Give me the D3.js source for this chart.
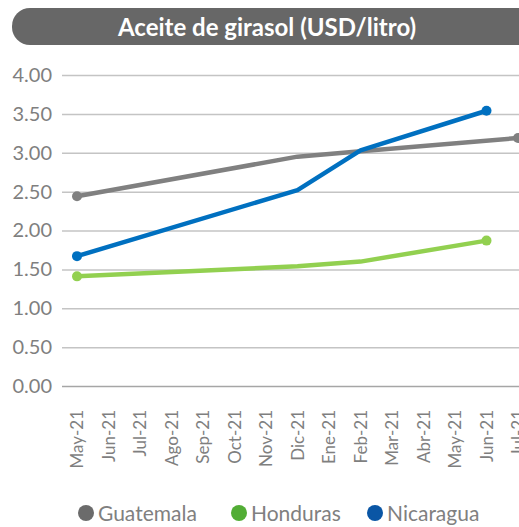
<!DOCTYPE html>
<html>
<head>
<meta charset="utf-8">
<script src="https://cdn.jsdelivr.net/npm/d3@7"></script>
<style>
  body { margin: 0; background: #fff; }
  svg { display: block; font-family: Lato, "Open Sans", sans-serif; }
</style>
</head>
<body>
<div id="chart"></div>
<script>
// month labels along the x axis (as printed on the original)
const months = ["May-21", "Jun-21", "Jul-21", "Ago-21", "Sep-21", "Oct-21", "Nov-21",
    "Dic-21", "Ene-21", "Feb-21", "Mar-21", "Abr-21", "May-21", "Jun-21", "Jul-21"];

// values, null where there is no point
const guatemala = [2.44, null, null, null, null, null, null, 2.95, null, 3.02, null, null, null, null, 3.19];
const honduras  = [1.41, null, null, null, null, null, null, 1.54, null, 1.60, null, null, null, 1.87, null];
const nicaragua = [1.67, null, null, null, null, null, null, 2.52, null, 3.03, null, null, null, 3.54, null];

const yTicks = [0, 0.5, 1, 1.5, 2, 2.5, 3, 3.5, 4];

const seriesNames = ["Guatemala", "Honduras", "Nicaragua"];
const lineColors = ["#808080", "#92d050", "#0070c0"];
const legendColors = ["#6b6b6b", "#52ad35", "#0a56a5"];

let series = [guatemala, honduras, nicaragua].map((vals, i) => ({
    name: seriesNames[i],
    color: lineColors[i],
    points: vals.map((v, j) => ({ i: j, value: v })).filter(d => d.value !== null)
}));

const width = 519, height = 527;
const svg = d3.select("#chart").append("svg")
    .attr("width", width)
    .attr("height", height);

// title bar
svg.append("rect")
    .attr("x", 12)
    .attr("y", 8)
    .attr("width", 530)
    .attr("height", 37)
    .attr("rx", 18)
    .attr("fill", "#676767");

svg.append("text")
    .attr("x", 267)
    .attr("y", 27)
    .attr("dy", "0.36em")
    .style("text-anchor", "middle")
    .style("font-size", "24px")
    .style("font-weight", "700")
    .style("fill", "#fff")
    .text("Aceite de girasol (USD/litro)");

// scales
let x = d3.scalePoint()
    .domain(d3.range(months.length))
    .range([77, 518]);

let y = d3.scaleLinear()
    .domain([0, 4])
    .range([386, 75]);

// grid lines + y labels
let yAxis = d3.axisLeft(y)
    .tickValues(yTicks)
    .tickFormat(d3.format(".2f"))
    .tickSize(-(width - 62))
    .tickPadding(10);

let yG = svg.append("g")
    .attr("transform", "translate(62,0)")
    .call(yAxis)
    .attr("font-family", null)
    .attr("font-size", null);

yG.select(".domain").remove();
yG.selectAll(".tick line")
    .attr("stroke", d => d === 0 ? "#a6a6a6" : "#c4c4c4")
    .attr("stroke-width", 1.5);
yG.selectAll(".tick text")
    .style("font-size", "20px")
    .style("fill", "#7f7f7f");

// x labels
let xAxis = d3.axisBottom(x)
    .tickFormat(i => months[i])
    .tickSize(0);

let xG = svg.append("g")
    .attr("transform", "translate(0,386)")
    .call(xAxis)
    .attr("font-family", null)
    .attr("font-size", null);

xG.select(".domain").remove();
xG.selectAll(".tick text")
    .attr("transform", "rotate(-90)")
    .attr("x", -24)
    .attr("y", 0)
    .attr("dy", "0.35em")
    .style("text-anchor", "end")
    .style("font-size", "17px")
    .style("fill", "#7f7f7f");

// lines
let line = d3.line()
    .x(d => x(d.i))
    .y(d => y(d.value));

svg.selectAll(".series")
    .data(series)
    .enter().append("path")
    .attr("class", "series")
    .attr("fill", "none")
    .attr("stroke", d => d.color)
    .attr("stroke-width", 4.5)
    .attr("stroke-linejoin", "round")
    .attr("d", d => line(d.points));

// end markers (first and last point only)
series.forEach(s => {
    let ends = [s.points[0], s.points[s.points.length - 1]];
    svg.selectAll(null)
        .data(ends)
        .enter().append("circle")
        .attr("cx", d => x(d.i))
        .attr("cy", d => y(d.value))
        .attr("r", 5)
        .attr("fill", s.color);
});

// legend
let legendX = [86, 239, 375];
let legend = svg.append("g")
    .attr("transform", "translate(0,513)");

seriesNames.forEach((name, i) => {
    let item = legend.append("g")
        .attr("transform", `translate(${legendX[i]},0)`);
    item.append("circle")
        .attr("r", 8)
        .attr("fill", legendColors[i]);
    item.append("text")
        .attr("x", 12)
        .attr("dy", "0.36em")
        .style("font-size", "21px")
        .style("fill", "#808080")
        .text(name);
});
</script>
</body>
</html>
